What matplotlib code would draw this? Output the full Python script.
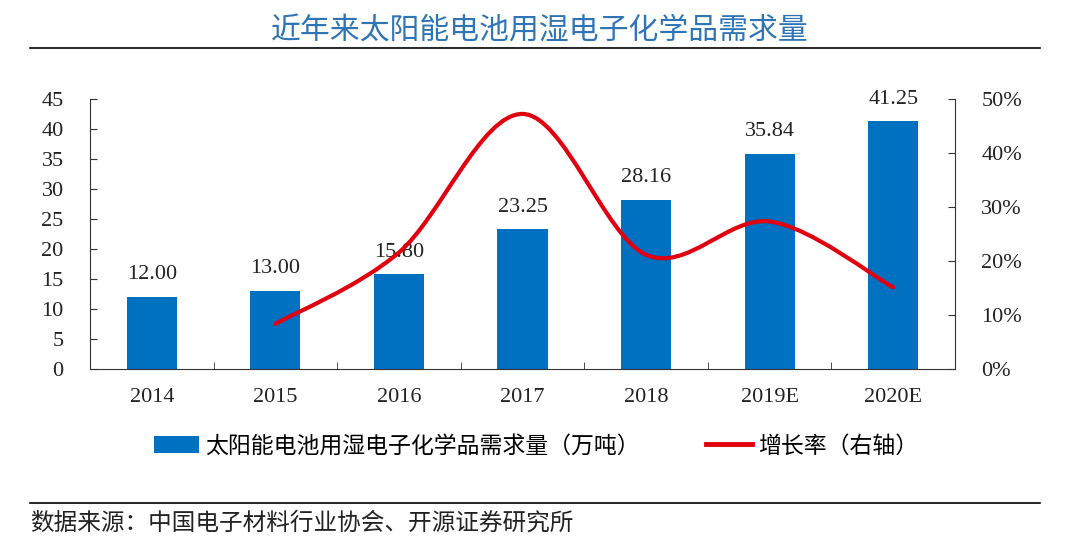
import matplotlib
matplotlib.use('Agg')
import matplotlib.pyplot as plt
from matplotlib.path import Path
from matplotlib.patches import PathPatch, Patch
from matplotlib.lines import Line2D
from matplotlib.ticker import FuncFormatter

# Data
years = ['2014', '2015', '2016', '2017', '2018', '2019E', '2020E']
demand = [12.00, 13.00, 15.80, 23.25, 28.16, 35.84, 41.25]
growth = [0.0833, 0.2154, 0.4715, 0.2112, 0.2727, 0.1509]  # 2015..2020E

title = '近年来太阳能电池用湿电子化学品需求量'
bar_label = '太阳能电池用湿电子化学品需求量（万吨）'
line_label = '增长率（右轴）'
source = '数据来源：中国电子材料行业协会、开源证券研究所'

BAR_COLOR = '#0070C0'
LINE_COLOR = '#E00010'
NUM_FONT = ['Liberation Serif', 'Noto Sans CJK SC']
CJK_FONT = ['Noto Sans CJK SC', 'DejaVu Sans']

plt.rcParams['font.family'] = NUM_FONT


def smooth_path(xs, ys):
    # Catmull-Rom style bezier, like the office "smoothed line"
    n = len(xs)
    verts = [(xs[0], ys[0])]
    codes = [Path.MOVETO]
    for i in range(n - 1):
        i0, i3 = max(i - 1, 0), min(i + 2, n - 1)
        c1 = (xs[i] + (xs[i + 1] - xs[i0]) / 6, ys[i] + (ys[i + 1] - ys[i0]) / 6)
        c2 = (xs[i + 1] - (xs[i3] - xs[i]) / 6, ys[i + 1] - (ys[i3] - ys[i]) / 6)
        verts += [c1, c2, (xs[i + 1], ys[i + 1])]
        codes += [Path.CURVE4] * 3
    return Path(verts, codes)


fig = plt.figure(figsize=(10.8, 5.51), dpi=100)
ax = fig.add_axes([0.0833, 0.3303, 0.8010, 0.4909])
x = list(range(len(years)))

ax.bar(x, demand, width=0.405, color=BAR_COLOR, zorder=2)
for xi, v in zip(x, demand):
    ax.annotate(f'{v:.2f}', xy=(xi, v), xytext=(0, 9), textcoords='offset points',
                ha='center', va='bottom', fontsize=16, family=NUM_FONT, color='#222222')

ax.set_xlim(-0.5, len(years) - 0.5)
ax.set_ylim(0, 45)
ax.set_yticks(range(0, 46, 5))
ax.set_xticks(x)
ax.set_xticklabels(years)
ax.set_xticks([i + 0.5 for i in x[:-1]], minor=True)
ax.tick_params(axis='x', which='major', length=0, pad=14, labelsize=16, labelcolor='#222222')
ax.tick_params(axis='x', which='minor', direction='in', length=5, color='#333333')
ax.tick_params(axis='y', direction='in', length=5, pad=19, labelsize=16, labelcolor='#222222',
               color='#333333')
for s in ['top', 'right']:
    ax.spines[s].set_visible(False)
for s in ['left', 'bottom']:
    ax.spines[s].set_color('#333333')

ax2 = ax.twinx()
ax2.set_ylim(0, 0.5)
ax2.set_yticks([0, 0.1, 0.2, 0.3, 0.4, 0.5])
ax2.yaxis.set_major_formatter(FuncFormatter(lambda v, p: f'{v:.0%}'))
ax2.tick_params(axis='y', direction='in', length=5, pad=19, labelsize=16, labelcolor='#222222',
                color='#333333')
for s in ['top', 'left', 'bottom']:
    ax2.spines[s].set_visible(False)
ax2.spines['right'].set_color('#333333')

path = smooth_path(x[1:], growth)
ax2.add_patch(PathPatch(path, facecolor='none', edgecolor=LINE_COLOR, lw=3.0,
                        capstyle='round', zorder=3))

# title, rules and source
fig.text(0.5, 1 - 30 / 551, title, ha='center', va='center', fontsize=21.5,
         family=CJK_FONT, color='#2F75B5')
fig.add_artist(Line2D([0.028, 0.963], [1 - 48 / 551] * 2, color='black', lw=1.2))
fig.add_artist(Line2D([0.028, 0.963], [1 - 503 / 551] * 2, color='black', lw=1.2))
fig.text(0.028, 1 - 523 / 551, source, ha='left', va='center', fontsize=17,
         family=CJK_FONT, color='#222222')

handles = [Patch(facecolor=BAR_COLOR, edgecolor='none'),
           Line2D([0], [0], color=LINE_COLOR, lw=3.5)]
fig.legend(handles, [bar_label, line_label], loc='center', ncol=2,
           bbox_to_anchor=(0.496, 1 - 446 / 551), frameon=False,
           prop={'family': CJK_FONT, 'size': 16.5}, handlelength=2.0, handleheight=0.7,
           handletextpad=0.25, columnspacing=2.9)

fig.savefig('out.png', dpi=100, facecolor='white')
